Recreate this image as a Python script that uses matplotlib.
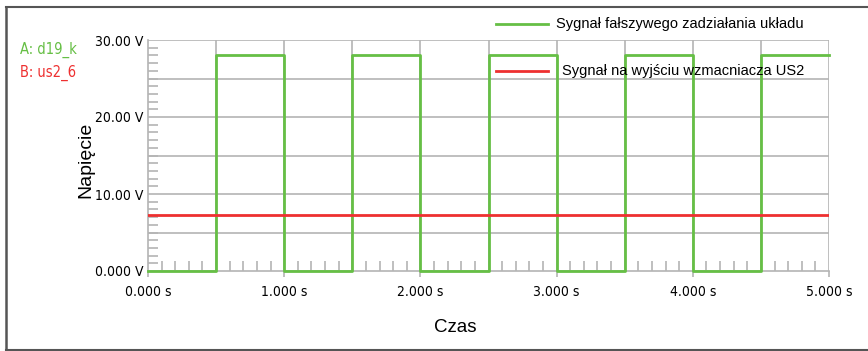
import matplotlib
matplotlib.use("Agg")
import matplotlib.pyplot as plt
from matplotlib.lines import Line2D
import numpy as np

# Data
t_edges = [0.0, 0.5, 0.5, 1.0, 1.0, 1.5, 1.5, 2.0, 2.0, 2.5, 2.5, 3.0, 3.0, 3.5, 3.5, 4.0, 4.0, 4.5, 4.5, 5.0]
v_signal = [0, 0, 28, 28, 0, 0, 28, 28, 0, 0, 28, 28, 0, 0, 28, 28, 0, 0, 28, 28]
t_out = [0.0, 5.0]
v_out = [7.3, 7.3]
xticks = [0, 1, 2, 3, 4, 5]
xtick_labels = ["0.000 s", "1.000 s", "2.000 s", "3.000 s", "4.000 s", "5.000 s"]
yticks = [0, 10, 20, 30]
ytick_labels = ["0.000 V", "10.00 V", "20.00 V", "30.00 V"]
legend_labels = ["Sygnał fałszywego zadziałania układu", "Sygnał na wyjściu wzmacniacza US2"]

GREEN = "#66bf45"
RED = "#ee3030"
GRID = "#b4b4b4"

plt.rcParams['font.family'] = ['Liberation Sans', 'DejaVu Sans']

W, H = 868, 351
fig = plt.figure(figsize=(W / 100, H / 100), dpi=100)

def fx(px):
    return px / W

def fy(py):
    return 1 - py / H

NARROW = dict(family=['DejaVu Sans'], stretch='condensed')

# Border
fig.add_artist(Line2D([fx(6), fx(6)], [fy(7), fy(350)], color="#555555", lw=1.8, transform=fig.transFigure))
fig.add_artist(Line2D([fx(6), 1.0], [fy(7), fy(7)], color="#555555", lw=1.5, transform=fig.transFigure))
fig.add_artist(Line2D([fx(6), 1.0], [fy(350), fy(350)], color="#555555", lw=1.5, transform=fig.transFigure))

ax = fig.add_axes([fx(148), fy(271), fx(829) - fx(148), fy(40) - fy(271)])
ax.set_xlim(0, 5)
ax.set_ylim(0, 30)

# Grid
for gx in np.arange(0.5, 5.01, 0.5):
    ax.axvline(gx, color=GRID, lw=1.2, zorder=1)
for gy in np.arange(5, 30.01, 5):
    ax.axhline(gy, color=GRID, lw=1.2, zorder=1)

for s in ["top", "right"]:
    ax.spines[s].set_visible(False)
for s in ["left", "bottom"]:
    ax.spines[s].set_color(GRID)
    ax.spines[s].set_linewidth(1.2)

ax.plot(t_edges, v_signal, color=GREEN, lw=2, zorder=3, clip_on=False)
ax.plot(t_out, v_out, color=RED, lw=2, zorder=3)

ax.set_xticks(xticks)
ax.set_xticklabels(xtick_labels)
ax.set_yticks(yticks)
ax.set_yticklabels(ytick_labels)
ax.set_xticks(np.arange(0, 5.001, 0.1), minor=True)
ax.set_yticks(np.arange(0, 30.001, 1), minor=True)
ax.tick_params(axis="x", which="major", direction="out", length=4, color=GRID, width=1.2, pad=6)
ax.tick_params(axis="y", which="major", direction="out", length=0, color=GRID, width=1.2, pad=3)
ax.tick_params(axis="x", which="minor", direction="in", length=7, color=GRID, width=1.2)
ax.tick_params(axis="y", which="minor", direction="in", length=7, color=GRID, width=1.2)
for lab in ax.get_xticklabels() + ax.get_yticklabels():
    lab.set_family(NARROW['family'])
    lab.set_stretch(NARROW['stretch'])
    lab.set_fontsize(10)

fig.text(fx(86), fy(160), "Napięcie", fontsize=14, rotation=90, ha="center", va="center")
fig.text(fx(455), fy(328), "Czas", fontsize=13.5, ha="center", va="center")

# Channel labels
fig.text(fx(20), fy(50), "A: d19_k", color=GREEN, fontsize=10.5, va="center", **NARROW)
fig.text(fx(20), fy(73), "B: us2_6", color=RED, fontsize=10.5, va="center", **NARROW)

# Legend entries
fig.add_artist(Line2D([fx(496), fx(548)], [fy(24), fy(24)], color=GREEN, lw=2, transform=fig.transFigure))
fig.text(fx(556), fy(24), legend_labels[0], fontsize=10.5, va="center")
fig.add_artist(Line2D([fx(496), fx(548)], [fy(71), fy(71)], color=RED, lw=2, transform=fig.transFigure, zorder=5))
fig.text(fx(562), fy(71), legend_labels[1], fontsize=10.5, va="center", zorder=5)

fig.savefig("out.png", dpi=100)
